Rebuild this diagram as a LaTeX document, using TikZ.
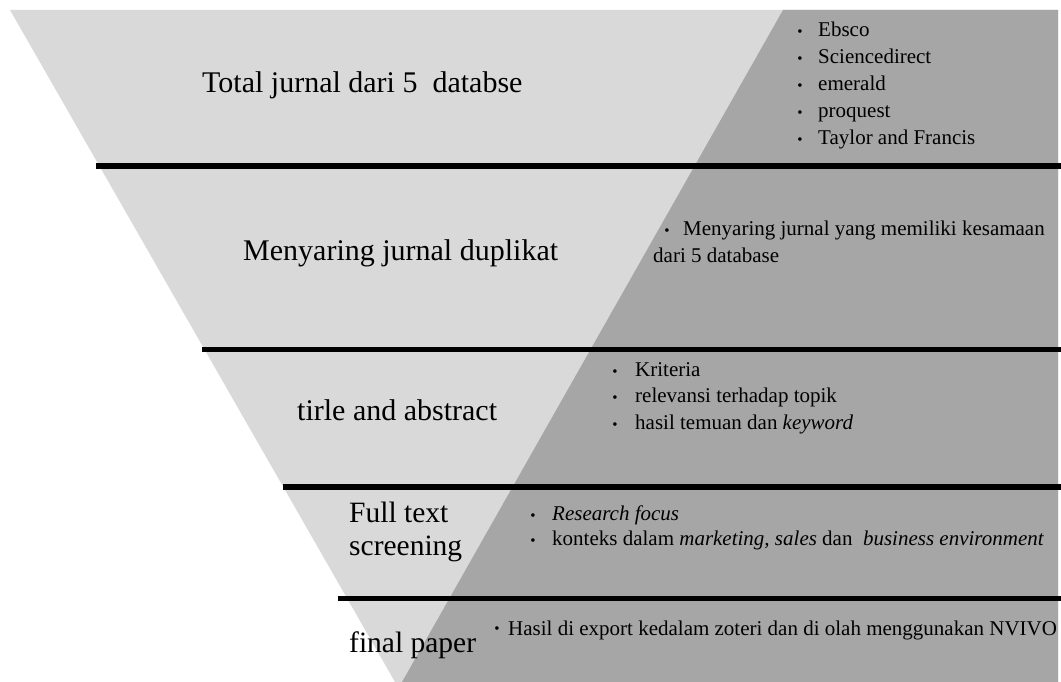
\documentclass[tikz,border=0pt]{standalone}
\usepackage{fontspec}
\setmainfont{Liberation Serif}
\definecolor{lightfunnel}{HTML}{D9D9D9}
\definecolor{darkfunnel}{HTML}{A6A6A6}
\begin{document}
\begin{tikzpicture}[x=1pt,y=-1pt,
  title/.style={anchor=base west, inner sep=0pt, font=\fontsize{30}{36}\selectfont},
  lowtitle/.style={anchor=base west, inner sep=0pt, font=\fontsize{29.5}{35}\selectfont},
  item/.style={anchor=base west, inner sep=0pt, font=\fontsize{21}{25}\selectfont},
  dot/.style={anchor=base, inner sep=0pt, font=\fontsize{15}{18}\selectfont},
  bar/.style={line width=5.5pt, black}]
\useasboundingbox (0,0) rectangle (1061,682);
% funnel shapes
\fill[lightfunnel] (10,10) -- (1058,10) -- (1058,682) -- (395,682) -- cycle;
\fill[darkfunnel] (783,10) -- (1058,10) -- (1058,682) -- (402,682) -- cycle;
% separator bars
\draw[bar] (96,166) -- (1061,166);
\draw[bar] (202,349.5) -- (1061,349.5);
\draw[bar] (283,487) -- (1061,487);
\draw[bar] (338,598.5) -- (1061,598.5);
% stage titles
\node[title] (t1) at (202,93) {Total jurnal dari 5\ \ databse};
\node[title] (t2) at (243,260) {Menyaring jurnal duplikat};
\node[title] (t3) at (297,420) {tirle and abstract};
\node[lowtitle] (t4a) at (349,522) {Full text};
\node[lowtitle] (t4b) at (349,555) {screening};
\node[lowtitle] (t5) at (349,652) {final paper};
% list 1
\node[dot] (b11) at (800,37) {\textbullet};
\node[item] (l11) at (818,37) {Ebsco};
\node[dot] (b12) at (800,64) {\textbullet};
\node[item] (l12) at (818,64) {Sciencedirect};
\node[dot] (b13) at (800,91) {\textbullet};
\node[item] (l13) at (818,91) {emerald};
\node[dot] (b14) at (800,118) {\textbullet};
\node[item] (l14) at (818,118) {proquest};
\node[dot] (b15) at (800,145) {\textbullet};
\node[item] (l15) at (818,145) {Taylor and Francis};
% list 2
\node[dot] (b21) at (667,235) {\textbullet};
\node[item] (l21) at (683,235) {Menyaring jurnal yang memiliki kesamaan};
\node[item] (l22) at (653,262) {dari 5 database};
% list 3
\node[dot] (b31) at (615,376) {\textbullet};
\node[item] (l31) at (635,376) {Kriteria};
\node[dot] (b32) at (615,402) {\textbullet};
\node[item] (l32) at (635,402) {relevansi terhadap topik};
\node[dot] (b33) at (615,429) {\textbullet};
\node[item] (l33) at (635,429) {hasil temuan dan \textit{keyword}};
% list 4
\node[dot] (b41) at (533,520) {\textbullet};
\node[item] (l41) at (552,520) {\textit{Research focus}};
\node[dot] (b42) at (533,545) {\textbullet};
\node[item] (l42) at (552,545) {konteks dalam \textit{marketing, sales} dan\ \ \textit{business environment}};
% list 5
\node[dot] (b51) at (497,633) {\textbullet};
\node[item] (l51) at (508,635) {Hasil di export kedalam zoteri dan di olah menggunakan NVIVO};
\end{tikzpicture}
\end{document}
